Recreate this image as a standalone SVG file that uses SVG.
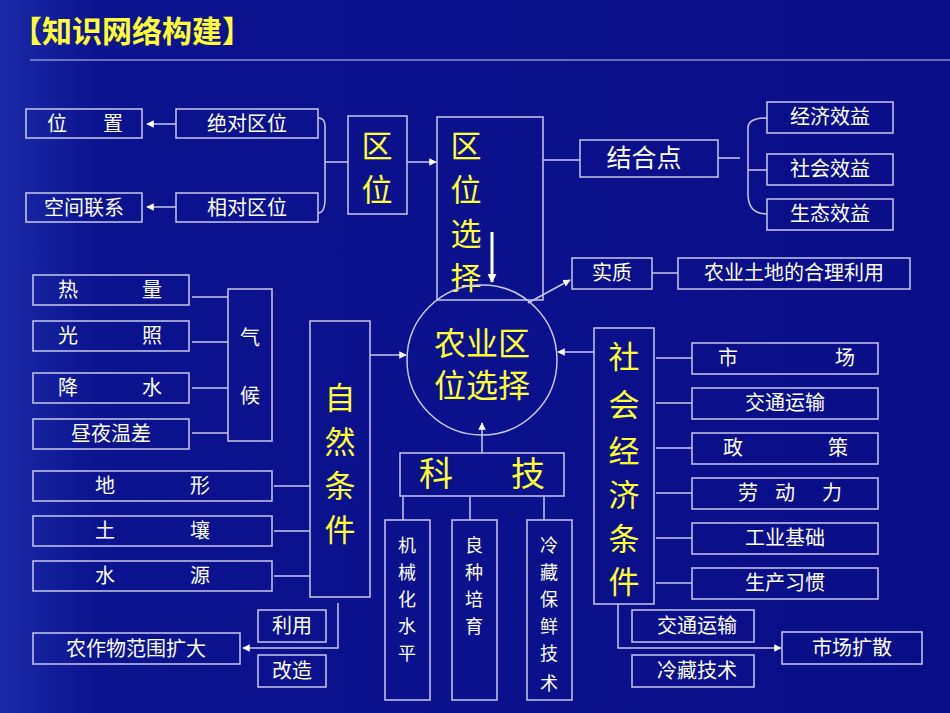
<svg xmlns="http://www.w3.org/2000/svg" width="950" height="713" viewBox="0 0 950 713">
<defs>
<linearGradient id="bg" x1="0" y1="0" x2="1" y2="0"><stop offset="0" stop-color="#1a2aa8"/><stop offset="0.1" stop-color="#0c138f"/><stop offset="1" stop-color="#0a0d88"/></linearGradient>
<marker id="ah" viewBox="0 0 10 10" refX="9" refY="5" markerWidth="5" markerHeight="5" orient="auto"><path d="M0,0L10,5L0,10z" fill="#fff"/></marker>
<marker id="ahb" viewBox="0 0 10 10" refX="9" refY="5" markerWidth="3" markerHeight="3" orient="auto"><path d="M0,0L10,5L0,10z" fill="#fff"/></marker>
</defs>
<style>
text{font-family:"Noto Sans CJK SC","Liberation Sans",sans-serif;fill:#fff;font-size:20px;text-anchor:middle}
.y{fill:#ffff33;font-size:34px}
.z{fill:#ffff33;font-size:31px}
.v{font-size:18px}
.t{fill:#ffff33;font-size:30px;text-anchor:start;font-weight:bold}
rect{fill:none;stroke:#c8c8e8;stroke-width:1.5}
.c path,.c line{stroke:#c8c8e8;stroke-width:1.5;fill:none}
</style>
<rect x="0" y="0" width="950" height="713" style="fill:url(#bg);stroke:none"/>
<text class="t" x="12" y="42">【知识网络构建】</text>
<line x1="30" y1="60" x2="950" y2="60" stroke="#c8c8e8" stroke-width="1"/>

<g class="c" id="connectors">
<line x1="176" y1="124" x2="147" y2="124" marker-end="url(#ah)"/>
<line x1="176" y1="207" x2="147" y2="207" marker-end="url(#ah)"/>
<path d="M318,118 Q325,118 325,126 V199 Q325,213 318,213 M325,162 H348"/>
<line x1="407" y1="162" x2="436" y2="162" marker-end="url(#ah)"/>
<line x1="543" y1="160" x2="580" y2="160"/>
<path d="M718,158 H740 M767,118 Q748,118 748,128 V194 Q748,214 767,214 M748,170 H767"/>
<line x1="528" y1="303" x2="570" y2="280" marker-end="url(#ah)"/>
<line x1="652" y1="273" x2="678" y2="273"/>
<line x1="192" y1="297" x2="228" y2="297"/><line x1="192" y1="342" x2="228" y2="342"/><line x1="192" y1="388" x2="228" y2="388"/><line x1="192" y1="433" x2="228" y2="433"/>
<line x1="274" y1="486" x2="310" y2="486"/><line x1="274" y1="531" x2="310" y2="531"/><line x1="274" y1="576" x2="310" y2="576"/>
<line x1="370" y1="355" x2="406" y2="355" marker-end="url(#ah)"/>
<line x1="594" y1="352" x2="558" y2="352" marker-end="url(#ah)"/>
<line x1="482" y1="453" x2="482" y2="423" marker-end="url(#ah)"/>
<line x1="403" y1="497" x2="403" y2="520"/><line x1="470" y1="497" x2="470" y2="520"/><line x1="544" y1="497" x2="544" y2="520"/>
<line x1="656" y1="358" x2="692" y2="358"/><line x1="656" y1="403" x2="692" y2="403"/><line x1="656" y1="448" x2="692" y2="448"/><line x1="656" y1="493" x2="692" y2="493"/><line x1="656" y1="538" x2="692" y2="538"/><line x1="656" y1="583" x2="692" y2="583"/>
<path d="M618,604 V648 H781" marker-end="url(#ah)"/>
<path d="M338,603 V648 H243" marker-end="url(#ah)"/>
<line x1="492" y1="232" x2="492" y2="282" style="stroke:#fff;stroke-width:3" marker-end="url(#ahb)"/>
</g>

<g id="n-weizhi"><rect x="26" y="109" width="116" height="29"/><text x="57" y="131">位</text><text x="113" y="131">置</text></g>
<g id="n-juedui"><rect x="176" y="109" width="142" height="29"/><text x="247" y="131">绝对区位</text></g>
<g id="n-kongjian"><rect x="26" y="193" width="116" height="29"/><text x="84" y="215">空间联系</text></g>
<g id="n-xiangdui"><rect x="176" y="193" width="142" height="29"/><text x="247" y="215">相对区位</text></g>
<g id="n-quwei"><rect x="348" y="116" width="59" height="98"/><text class="z" x="377" y="157">区</text><text class="z" x="377" y="201">位</text></g>
<g id="n-quweixuanze"><rect x="437" y="117" width="106" height="183"/><text class="z" x="466" y="157">区</text><text class="z" x="466" y="201">位</text><text class="z" x="466" y="245">选</text><text class="z" x="466" y="289">择</text></g>
<g id="n-jiehedian"><rect x="580" y="140" width="138" height="37"/><text x="644" y="167" style="font-size:25px">结合点</text></g>
<g id="n-jingji"><rect x="767" y="102" width="126" height="31"/><text x="830" y="124">经济效益</text></g>
<g id="n-shehui"><rect x="767" y="154" width="126" height="31"/><text x="830" y="176">社会效益</text></g>
<g id="n-shengtai"><rect x="767" y="199" width="126" height="31"/><text x="830" y="221">生态效益</text></g>
<g id="n-shizhi"><rect x="572" y="258" width="80" height="31"/><text x="612" y="280">实质</text></g>
<g id="n-heli"><rect x="678" y="258" width="232" height="31"/><text x="794" y="280">农业土地的合理利用</text></g>
<g id="n-center"><circle cx="482" cy="360" r="75" fill="none" stroke="#c8c8e8" stroke-width="1.5"/><text class="y" x="482" y="355" style="font-size:32px">农业区</text><text class="y" x="482" y="397" style="font-size:32px">位选择</text></g>
<g id="n-reliang"><rect x="33" y="275" width="156" height="30"/><text x="68" y="297">热</text><text x="152" y="297">量</text></g>
<g id="n-guangzhao"><rect x="33" y="321" width="156" height="30"/><text x="68" y="343">光</text><text x="152" y="343">照</text></g>
<g id="n-jiangshui"><rect x="33" y="373" width="156" height="30"/><text x="68" y="395">降</text><text x="152" y="395">水</text></g>
<g id="n-wencha"><rect x="33" y="419" width="156" height="30"/><text x="111" y="441">昼夜温差</text></g>
<g id="n-qihou"><rect x="228" y="289" width="44" height="152"/><text x="250" y="345">气</text><text x="250" y="403">候</text></g>
<g id="n-ziran"><rect x="310" y="321" width="60" height="276"/><text class="z" x="340" y="409">自</text><text class="z" x="340" y="453">然</text><text class="z" x="340" y="497">条</text><text class="z" x="340" y="541">件</text></g>
<g id="n-dixing"><rect x="33" y="471" width="239" height="30"/><text x="105" y="493">地</text><text x="200" y="493">形</text></g>
<g id="n-turang"><rect x="33" y="516" width="239" height="30"/><text x="105" y="538">土</text><text x="200" y="538">壤</text></g>
<g id="n-shuiyuan"><rect x="33" y="561" width="239" height="30"/><text x="105" y="583">水</text><text x="200" y="583">源</text></g>
<g id="n-keji"><rect x="400" y="453" width="164" height="43"/><text class="y" x="436" y="486">科</text><text class="y" x="528" y="486">技</text></g>
<g id="n-jixie"><rect x="385" y="520" width="45" height="180"/><text class="v" x="407" y="552">机</text><text class="v" x="407" y="579">械</text><text class="v" x="407" y="606">化</text><text class="v" x="407" y="633">水</text><text class="v" x="407" y="660">平</text></g>
<g id="n-liangzhong"><rect x="452" y="520" width="45" height="180"/><text class="v" x="474" y="552">良</text><text class="v" x="474" y="579">种</text><text class="v" x="474" y="606">培</text><text class="v" x="474" y="633">育</text></g>
<g id="n-lengcang"><rect x="527" y="520" width="45" height="180"/><text class="v" x="549" y="552">冷</text><text class="v" x="549" y="579">藏</text><text class="v" x="549" y="606">保</text><text class="v" x="549" y="633">鲜</text><text class="v" x="549" y="660">技</text><text class="v" x="549" y="690">术</text></g>
<g id="n-shehuijingji"><rect x="594" y="328" width="60" height="276"/><text class="z" x="624" y="368">社</text><text class="z" x="624" y="416">会</text><text class="z" x="624" y="462">经</text><text class="z" x="624" y="506">济</text><text class="z" x="624" y="550">条</text><text class="z" x="624" y="593">件</text></g>
<g id="n-shichang"><rect x="692" y="343" width="186" height="31"/><text x="728" y="365">市</text><text x="845" y="365">场</text></g>
<g id="n-jiaotong"><rect x="692" y="388" width="186" height="31"/><text x="785" y="410">交通运输</text></g>
<g id="n-zhengce"><rect x="692" y="433" width="186" height="31"/><text x="733" y="455">政</text><text x="838" y="455">策</text></g>
<g id="n-laodong"><rect x="692" y="478" width="186" height="31"/><text x="748" y="500">劳</text><text x="785" y="500">动</text><text x="832" y="500">力</text></g>
<g id="n-gongye"><rect x="692" y="523" width="186" height="31"/><text x="785" y="545">工业基础</text></g>
<g id="n-xiguan"><rect x="692" y="568" width="186" height="31"/><text x="785" y="590">生产习惯</text></g>
<g id="n-jt2"><rect x="632" y="610" width="122" height="32"/><text x="697" y="633">交通运输</text></g>
<g id="n-lcjs"><rect x="632" y="655" width="122" height="32"/><text x="697" y="678">冷藏技术</text></g>
<g id="n-kuosan"><rect x="782" y="632" width="140" height="32"/><text x="852" y="655">市场扩散</text></g>
<g id="n-liyong"><rect x="258" y="610" width="68" height="32"/><text x="292" y="633">利用</text></g>
<g id="n-gaizao"><rect x="258" y="655" width="68" height="32"/><text x="292" y="678">改造</text></g>
<g id="n-fanwei"><rect x="33" y="633" width="207" height="31"/><text x="136" y="656">农作物范围扩大</text></g>
</svg>
